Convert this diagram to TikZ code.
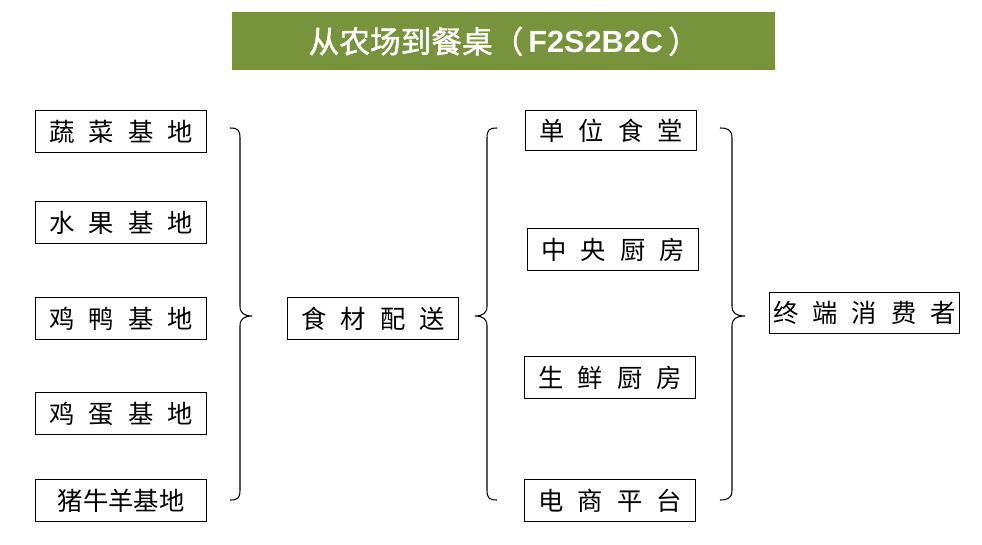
\documentclass[tikz,border=0pt]{standalone}
\usepackage{fontspec}
\newfontfamily\cjk{Noto Sans CJK SC}
\newfontfamily\cjkb{Noto Sans CJK SC}[FakeBold=1.5]
\setmainfont{Liberation Sans}
\definecolor{tgreen}{HTML}{77933C}
\newcommand{\gsp}{\hspace{0.55em}}
\begin{document}
\begin{tikzpicture}[x=0.75pt,y=-0.75pt,
  bx/.style={draw,line width=0.8pt,anchor=north west,inner sep=0pt,font=\cjk\fontsize{19}{19}\selectfont},
  br/.style={line width=0.8pt}]
\useasboundingbox (0,0) rectangle (982,544);
\node[fill=tgreen,anchor=north west,minimum width=543*0.75pt,minimum height=58*0.75pt,inner sep=0pt,text=white] (title) at (232,12)
  {{\cjkb\fontsize{23}{23}\selectfont 从农场到餐桌（\,}{\bfseries\fontsize{23}{23}\selectfont F2S2B2C}{\cjkb\fontsize{23}{23}\selectfont\,）}};
\foreach \n/\t/\x/\y/\w/\h in {
 a/蔬\gsp 菜\gsp 基\gsp 地/35/110/171/42,
 b/水\gsp 果\gsp 基\gsp 地/35/201/171/42,
 c/鸡\gsp 鸭\gsp 基\gsp 地/35/297/171/42,
 d/鸡\gsp 蛋\gsp 基\gsp 地/35/392/171/42,
 e/猪牛羊基地/35/479/171/42,
 m/食\gsp 材\gsp 配\gsp 送/287/297/171/42,
 f/单\gsp 位\gsp 食\gsp 堂/525/110/171/40,
 g/中\gsp 央\gsp 厨\gsp 房/527/228/171/42,
 h/生\gsp 鲜\gsp 厨\gsp 房/524/356/171/42,
 i/电\gsp 商\gsp 平\gsp 台/524/479/171/42,
 z/终\gsp 端\gsp 消\gsp 费\gsp 者/769/292/190/41}
 \node[bx,minimum width=\w*0.75pt,minimum height=\h*0.75pt] (\n) at (\x,\y) {\t};
\draw[br] (230,128) .. controls (238,128) and (240,130) .. (240,138) -- (240,306)
  .. controls (240,313) and (244,316) .. (252,316)
  .. controls (244,316) and (240,319) .. (240,326) -- (240,490)
  .. controls (240,498) and (238,500) .. (230,500);
\draw[br] (497,128) .. controls (489,128) and (487,130) .. (487,138) -- (487,306)
  .. controls (487,313) and (483,316) .. (475,316)
  .. controls (483,316) and (487,319) .. (487,326) -- (487,490)
  .. controls (487,498) and (489,500) .. (497,500);
\draw[br] (720,128) .. controls (728,128) and (732,130) .. (732,138) -- (732,306)
  .. controls (732,313) and (736,316) .. (745,316)
  .. controls (736,316) and (732,319) .. (732,326) -- (732,490)
  .. controls (732,498) and (728,500) .. (720,500);
\end{tikzpicture}
\end{document}
